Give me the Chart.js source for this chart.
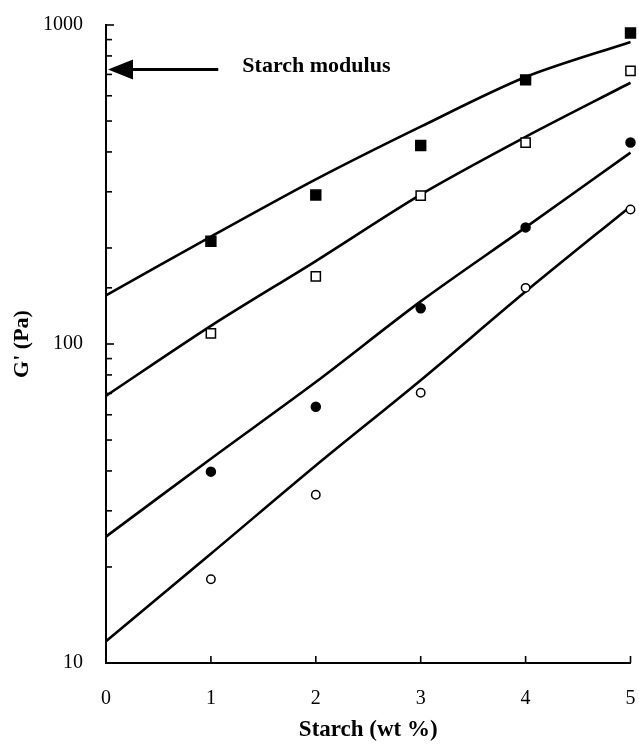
<!DOCTYPE html>
<html>
<head>
<meta charset="utf-8">
<script src="https://cdn.jsdelivr.net/npm/chart.js@4.4.1/dist/chart.umd.min.js"></script>
<style>
html,body{margin:0;padding:0;background:#fff;}
#wrap{width:639px;height:748px;}
</style>
</head>
<body>
<div id="wrap"><canvas id="c" width="639" height="748"></canvas></div>
<script>
// Measured points
const starch = [1, 2, 3, 4, 5];
const filledSquares = [210, 293, 419, 673, 944];
const openSquares = [108, 163, 292, 428, 718];
const filledCircles = [39.8, 63.6, 129.5, 232, 428];
const openCircles = [18.3, 33.7, 70.3, 150, 264];

// Fitted curves
const fitX = [0, 1, 2, 3, 4, 5];
const fit1 = [142, 217, 328, 480, 687, 885];
const fit2 = [68.8, 114, 182, 294, 446, 659];
const fit3 = [24.9, 43.7, 76, 136, 232, 398];
const fit4 = [11.7, 22, 41.6, 77, 146, 270];

const xTicks = [0, 1, 2, 3, 4, 5];
const yLabels = [10, 100, 1000];

const starchModulus = 725;
const annotationText = "Starch modulus";

const FONT = "'Liberation Serif', 'DejaVu Serif', serif";

function pts(xs, ys) { return xs.map((x, i) => ({x: x, y: ys[i]})); }

function lineDs(ys) {
  return {type: 'line', data: pts(fitX, ys), borderColor: '#000', borderWidth: 2.6,
    pointRadius: 0, tension: 0.3, fill: false, order: 2, clip: false};
}
function markDs(ys, style, filled, r) {
  return {type: 'scatter', data: pts(starch, ys), pointStyle: style, pointRadius: r,
    pointHoverRadius: r, backgroundColor: filled ? '#000' : '#fff', borderColor: '#000',
    borderWidth: 1.5, order: 1, clip: false};
}

const decor = {
  id: 'decor',
  afterDraw(chart) {
    const ctx = chart.ctx;
    const xs = chart.scales.x, ys = chart.scales.y;
    const area = chart.chartArea;
    ctx.save();
    ctx.strokeStyle = '#000';
    ctx.lineWidth = 1.6;
    // inward y ticks
    ys.ticks.forEach(t => {
      const v = t.value;
      const lg = Math.log10(v);
      const major = Math.abs(lg - Math.round(lg)) < 1e-6;
      const py = ys.getPixelForValue(v);
      const len = major ? 8 : 6;
      ctx.beginPath();
      ctx.moveTo(area.left, py);
      ctx.lineTo(area.left + len, py);
      ctx.stroke();
    });
    // inward x ticks
    xTicks.forEach(v => {
      if (v === 0) return;
      const px = xs.getPixelForValue(v);
      ctx.beginPath();
      ctx.moveTo(px, area.bottom);
      ctx.lineTo(px, area.bottom - 7);
      ctx.stroke();
    });
    // arrow
    const ay = ys.getPixelForValue(starchModulus);
    const tip = xs.getPixelForValue(0) + 2;
    const tail = xs.getPixelForValue(1.07);
    ctx.lineWidth = 3;
    ctx.beginPath();
    ctx.moveTo(tail, ay);
    ctx.lineTo(tip + 22, ay);
    ctx.stroke();
    ctx.fillStyle = '#000';
    ctx.beginPath();
    ctx.moveTo(tip, ay);
    ctx.lineTo(tip + 25, ay - 10);
    ctx.lineTo(tip + 25, ay + 10);
    ctx.closePath();
    ctx.fill();
    // text
    ctx.font = "bold 22px " + FONT;
    ctx.textBaseline = 'middle';
    ctx.textAlign = 'left';
    ctx.fillText(annotationText, xs.getPixelForValue(1.3), ay - 3);
    ctx.restore();
  }
};

new Chart(document.getElementById('c'), {
  type: 'scatter',
  data: {
    datasets: [
      lineDs(fit1), lineDs(fit2), lineDs(fit3), lineDs(fit4),
      markDs(filledSquares, 'rect', true, 7),
      markDs(openSquares, 'rect', false, 6.5),
      markDs(filledCircles, 'circle', true, 4.5),
      markDs(openCircles, 'circle', false, 4.2)
    ]
  },
  options: {
    responsive: false,
    animation: false,
    devicePixelRatio: 1,
    layout: {padding: {left: 0, right: 7, top: 25, bottom: 0}},
    plugins: {legend: {display: false}, tooltip: {enabled: false}},
    scales: {
      x: {
        type: 'linear', min: 0, max: 5,
        afterBuildTicks(s) { s.ticks = xTicks.map(v => ({value: v})); },
        afterFit(s) { s.height = 85; s.paddingLeft = 0; s.paddingRight = 0; },
        grid: {display: false},
        border: {display: true, color: '#000', width: 2},
        ticks: {color: '#000', font: {family: FONT, size: 20}, padding: 16, maxRotation: 0},
        title: {display: true, text: 'Starch (wt %)', color: '#000',
          font: {family: FONT, size: 23, weight: 'bold'}, padding: {top: 4, bottom: 4}}
      },
      y: {
        type: 'logarithmic', min: 10, max: 1000,
        afterFit(s) { s.width = 106; s.paddingTop = 0; s.paddingBottom = 0; },
        grid: {display: false},
        border: {display: true, color: '#000', width: 2},
        ticks: {color: '#000', font: {family: FONT, size: 20}, padding: 15, autoSkip: false,
          callback(v) { return yLabels.includes(v) ? String(v) : ''; }},
        title: {display: true, text: "G' (Pa)", color: '#000',
          font: {family: FONT, size: 22, weight: 'bold'}, padding: {top: 9, bottom: 4}}
      }
    }
  },
  plugins: [decor]
});
</script>
</body>
</html>
